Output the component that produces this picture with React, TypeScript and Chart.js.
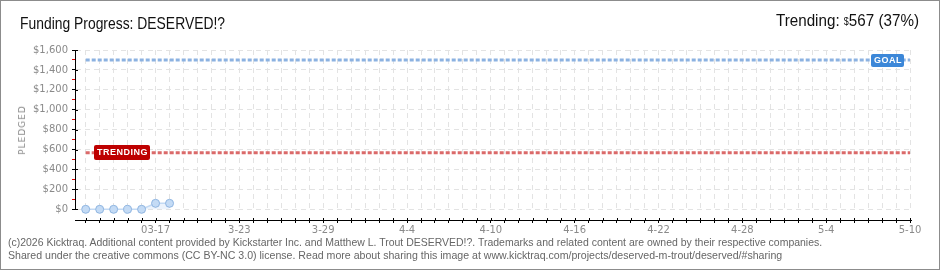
import React, { useEffect, useLayoutEffect, useRef } from 'react';
import { Chart, registerables } from 'chart.js';

Chart.register(...registerables);

// ---- data ----
const projectName = 'DESERVED!?';
const pledged = [0, 0, 0, 0, 0, 60, 60]; // daily cumulative pledges from 03-12
const goal = 1500;
const trending = 567;
const trendingPct = 37;
const totalDays = 59; // 03-12 .. 05-10
const xTickDays = [5, 11, 17, 23, 29, 35, 41, 47, 53, 59];
const xTickLabels = ['03-17', '3-23', '3-29', '4-4', '4-10', '4-16', '4-22', '4-28', '5-4', '5-10'];
const yTickValues = [0, 100, 200, 300, 400, 500, 600, 700, 800, 900, 1000, 1100, 1200, 1300, 1400, 1500, 1600];
const footerLines = [
  '(c)2026 Kicktraq. Additional content provided by Kickstarter Inc. and Matthew L. Trout DESERVED!?. Trademarks and related content are owned by their respective companies.',
  'Shared under the creative commons (CC BY-NC 3.0) license. Read more about sharing this image at www.kicktraq.com/projects/deserved-m-trout/deserved/#sharing',
];

const allDays: number[] = [];
for (let d = 0; d <= totalDays; d++) allDays.push(d);

function drawTag(ctx: CanvasRenderingContext2D, text: string, x: number, y: number, w: number, h: number, color: string) {
  ctx.save();
  ctx.fillStyle = color;
  ctx.beginPath();
  (ctx as any).roundRect(x, y, w, h, 2);
  ctx.fill();
  ctx.fillStyle = '#fff';
  ctx.font = 'bold 9px "Liberation Sans", Arial, sans-serif';
  ctx.textAlign = 'center';
  ctx.textBaseline = 'middle';
  try { (ctx as any).letterSpacing = '0.5px'; } catch (e) {}
  ctx.fillText(text, x + w / 2 + 0.5, y + h / 2 + 0.5);
  ctx.restore();
}

const decor = {
  id: 'decor',
  beforeDatasetsDraw(chart: any) {
    const { ctx, chartArea, scales } = chart;
    const x = scales.x, y = scales.y;
    const y0 = Math.round(y.getPixelForValue(0));
    ctx.save();
    ctx.fillStyle = '#fff';
    ctx.fillRect(chartArea.left - 1, y0 + 1, chartArea.right - chartArea.left + 6, chartArea.bottom - y0 - 1);
    ctx.strokeStyle = '#000';
    ctx.lineWidth = 1;
    ctx.beginPath();
    yTickValues.forEach((v) => {
      if (v % 200 === 0) {
        const py = Math.round(y.getPixelForValue(v)) + 0.5;
        ctx.moveTo(chartArea.left, py);
        ctx.lineTo(chartArea.left + 3, py);
      }
    });
    allDays.forEach((d) => {
      const px = Math.round(x.getPixelForValue(d)) + 0.5;
      ctx.moveTo(px, chartArea.bottom - 2);
      ctx.lineTo(px, chartArea.bottom);
    });
    ctx.stroke();
    ctx.restore();
  },
  afterDatasetsDraw(chart: any) {
    const { ctx, scales } = chart;
    const x = scales.x, y = scales.y;
    const gy = y.getPixelForValue(goal);
    const ty = y.getPixelForValue(trending);
    const xr = x.getPixelForValue(totalDays);
    const xl = x.getPixelForValue(0);
    drawTag(ctx, 'GOAL', Math.round(xr - 39), Math.round(gy - 6), 33, 13, '#3c87d8');
    drawTag(ctx, 'TRENDING', Math.round(xl + 8), Math.round(ty - 8), 56, 15, '#be0000');
  },
};

function FitText(props: { width: number; origin: 'left' | 'right'; style: React.CSSProperties; children: React.ReactNode }) {
  const ref = useRef<HTMLDivElement | null>(null);
  useLayoutEffect(() => {
    const el = ref.current;
    if (!el) return;
    el.style.transform = 'none';
    const w = el.scrollWidth;
    if (w > 0) el.style.transform = `scaleX(${props.width / w})`;
  });
  return (
    <div
      ref={ref}
      style={{ position: 'absolute', whiteSpace: 'nowrap', transformOrigin: props.origin === 'left' ? 'left center' : 'right center', ...props.style }}
    >
      {props.children}
    </div>
  );
}

export default function App() {
  const ref = useRef<HTMLCanvasElement | null>(null);

  useEffect(() => {
    if (!ref.current) return;
    const chart = new Chart(ref.current, {
      type: 'line',
      data: {
        datasets: [
          {
            label: 'Goal',
            data: [{ x: 0, y: goal }, { x: totalDays, y: goal }],
            borderColor: '#8cb2e1',
            borderWidth: 3,
            borderDash: [4, 2],
            pointRadius: 0,
            fill: false,
          },
          {
            label: 'Trending',
            data: [{ x: 0, y: trending }, { x: totalDays, y: trending }],
            borderColor: '#db6a6a',
            borderWidth: 3,
            borderDash: [4, 2],
            pointRadius: 0,
            fill: false,
          },
          {
            label: 'Pledged',
            data: pledged.map((v, i) => ({ x: i, y: v })),
            borderColor: '#c3daf4',
            borderWidth: 1.5,
            backgroundColor: 'rgba(200,220,246,0.35)',
            fill: 'origin',
            pointRadius: 4,
            pointBackgroundColor: '#c4dbf5',
            pointBorderColor: '#8fb5e1',
            pointBorderWidth: 1,
          },
        ],
      },
      options: {
        responsive: false,
        animation: false,
        events: [],
        layout: { padding: { top: 50, right: 29, bottom: 0, left: 0 } },
        plugins: { legend: { display: false }, tooltip: { enabled: false }, title: { display: false } },
        scales: {
          x: {
            type: 'linear',
            min: -0.766,
            max: 59.07,
            afterFit: (s: any) => { s.height = 50; },
            afterBuildTicks: (s: any) => { s.ticks = allDays.map((v) => ({ value: v })); },
            ticks: {
              autoSkip: false,
              maxRotation: 0,
              minRotation: 0,
              padding: 1,
              color: '#8a8a8a',
              font: { family: '"DejaVu Sans", sans-serif', size: 10 },
              callback: (v: any) => {
                const i = xTickDays.indexOf(Number(v));
                return i >= 0 ? xTickLabels[i] : '';
              },
            },
            grid: { color: '#e3e3e3', tickColor: '#000', tickLength: 3, lineWidth: 1 },
            border: { display: true, color: '#000', width: 1, dash: [5, 4] },
          },
          y: {
            type: 'linear',
            min: -107.5,
            max: 1600,
            afterFit: (s: any) => { s.width = 75; },
            afterBuildTicks: (s: any) => { s.ticks = yTickValues.map((v) => ({ value: v })); },
            ticks: {
              autoSkip: false,
              padding: 4,
              color: '#8a8a8a',
              font: { family: '"DejaVu Sans", sans-serif', size: 10 },
              callback: (v: any) => (Number(v) % 200 === 0 ? '$' + Number(v).toLocaleString('en-US') : ''),
            },
            grid: {
              color: (c: any) => (c.tick && c.tick.value % 200 === 0 ? '#e3e3e3' : 'rgba(0,0,0,0)'),
              tickColor: (c: any) => (c.tick && c.tick.value % 200 === 0 ? '#000' : '#e00000'),
              tickLength: 3,
              lineWidth: 1,
            },
            border: { display: true, color: '#000', width: 1, dash: [5, 4] },
          },
        },
      },
      plugins: [decor],
    } as any);
    return () => chart.destroy();
  }, []);

  const headFont = '"Liberation Sans", Arial, sans-serif';

  return (
    <div style={{ position: 'absolute', left: 0, top: 0, width: 940, height: 270, background: '#fff', overflow: 'hidden' }}>
      <style>{'body{margin:0}'}</style>
      <canvas ref={ref} width={940} height={270} style={{ position: 'absolute', left: 0, top: 0, width: 940, height: 270 }} />
      <FitText width={205} origin="left" style={{ left: 20, top: 14, fontSize: 17, lineHeight: '20px', fontFamily: headFont, color: '#111' }}>
        Funding Progress: {projectName}
      </FitText>
      <FitText width={143} origin="right" style={{ right: 21, top: 11, fontSize: 17, lineHeight: '20px', fontFamily: headFont, color: '#111' }}>
        Trending:{' '}
        <span style={{ fontSize: 10, verticalAlign: 'top', position: 'relative', top: 1 }}>$</span>
        {trending} ({trendingPct}%)
      </FitText>
      <div style={{ position: 'absolute', left: 22, top: 130, transform: 'translate(-50%,-50%) rotate(-90deg)', fontSize: 9, fontFamily: '"DejaVu Sans", sans-serif', letterSpacing: '1px', color: '#888', whiteSpace: 'nowrap' }}>
        PLEDGED
      </div>
      <FitText width={814} origin="left" style={{ left: 8, top: 236, fontSize: 11, lineHeight: '13px', fontFamily: headFont, color: '#666' }}>
        {footerLines[0]}
      </FitText>
      <FitText width={774} origin="left" style={{ left: 8, top: 249, fontSize: 11, lineHeight: '13px', fontFamily: headFont, color: '#666' }}>
        {footerLines[1]}
      </FitText>
      <div style={{ position: 'absolute', left: 0, top: 0, width: 940, height: 270, boxSizing: 'border-box', border: '1px solid #8c8c8c', pointerEvents: 'none' }} />
    </div>
  );
}
